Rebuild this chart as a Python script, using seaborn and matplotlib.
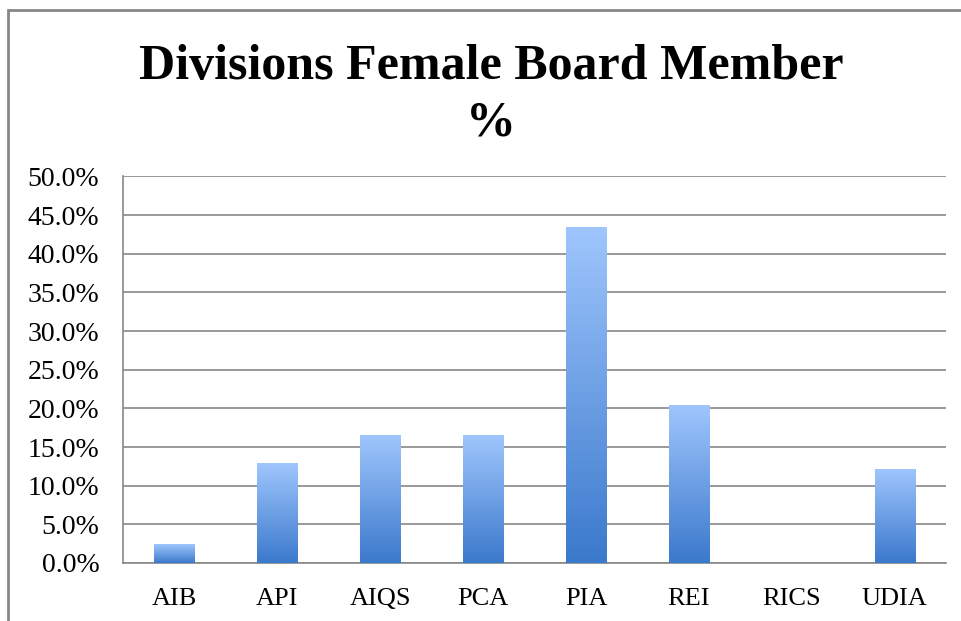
import numpy as np
import pandas as pd
import matplotlib
matplotlib.use('Agg')
import matplotlib.pyplot as plt
import seaborn as sns
from matplotlib.colors import LinearSegmentedColormap
from matplotlib.patches import Rectangle
from matplotlib.ticker import PercentFormatter, MultipleLocator

# data
divisions = ['AIB', 'API', 'AIQS', 'PCA', 'PIA', 'REI', 'RICS', 'UDIA']
female_pct = [0.024, 0.129, 0.165, 0.165, 0.435, 0.205, 0.0, 0.122]

df = pd.DataFrame({'division': divisions, 'pct': female_pct})

sns.set_style('white')
plt.rcParams['font.family'] = ['Liberation Serif', 'DejaVu Serif']

grey = '#878787'

fig = plt.figure(figsize=(9.62, 6.21), dpi=100)
ax = fig.add_axes([0.1279, 0.0934, 0.8555, 0.6224])

sns.barplot(data=df, x='division', y='pct', color='#5b93dd', width=0.39,
            ax=ax, zorder=3)

# excel-style vertical gradient inside each bar
grad = LinearSegmentedColormap.from_list('excel_blue', ['#3b79cc', '#9fc6fd'])
for bar in ax.patches:
    x0, y0 = bar.get_x(), bar.get_y()
    w, h = bar.get_width(), bar.get_height()
    bar.set_facecolor('none')
    bar.set_edgecolor('none')
    if h <= 0:
        continue
    img = ax.imshow(np.linspace(0, 1, 256).reshape(-1, 1), cmap=grad,
                    origin='lower', aspect='auto',
                    extent=[x0, x0 + w, y0, y0 + h], zorder=3)
    img.set_clip_path(bar)

ax.set_xlim(-0.5, len(divisions) - 0.5)
ax.set_ylim(0, 0.5)
ax.set_xlabel('')
ax.set_ylabel('')

# gridlines and axes
ax.yaxis.set_major_locator(MultipleLocator(0.05))
ax.yaxis.set_major_formatter(PercentFormatter(1, decimals=1))
ax.yaxis.grid(True, color=grey, lw=1.2)
ax.set_axisbelow(True)
for side in ['top', 'right']:
    ax.spines[side].set_visible(False)
for side in ['left', 'bottom']:
    ax.spines[side].set_color(grey)
    ax.spines[side].set_linewidth(1.2)

ax.tick_params(axis='y', which='major', direction='out', length=6,
               width=1.2, color=grey, pad=11, labelsize=20, labelcolor='black')
ax.tick_params(axis='x', which='major', length=0, pad=18, labelsize=19,
               labelcolor='black')
ax.set_xticks(np.arange(-0.5, len(divisions)), minor=True)
ax.tick_params(axis='x', which='minor', direction='out', length=5,
               width=1.2, color=grey)

# title (baseline alignment uses the last line, the "%")
fig.text(491 / 962, (621 - 135) / 621, 'Divisions Female Board Member\n%',
         ha='center', va='baseline', multialignment='center',
         fontsize=36, fontweight='bold', color='black', linespacing=1.3)

# chart-area border (only top and left edges visible)
fig.add_artist(Rectangle((0.008, -0.1), 1.1, 1.0839, transform=fig.transFigure,
                         fill=False, edgecolor=grey, lw=2))

fig.savefig('out.png', dpi=100)
